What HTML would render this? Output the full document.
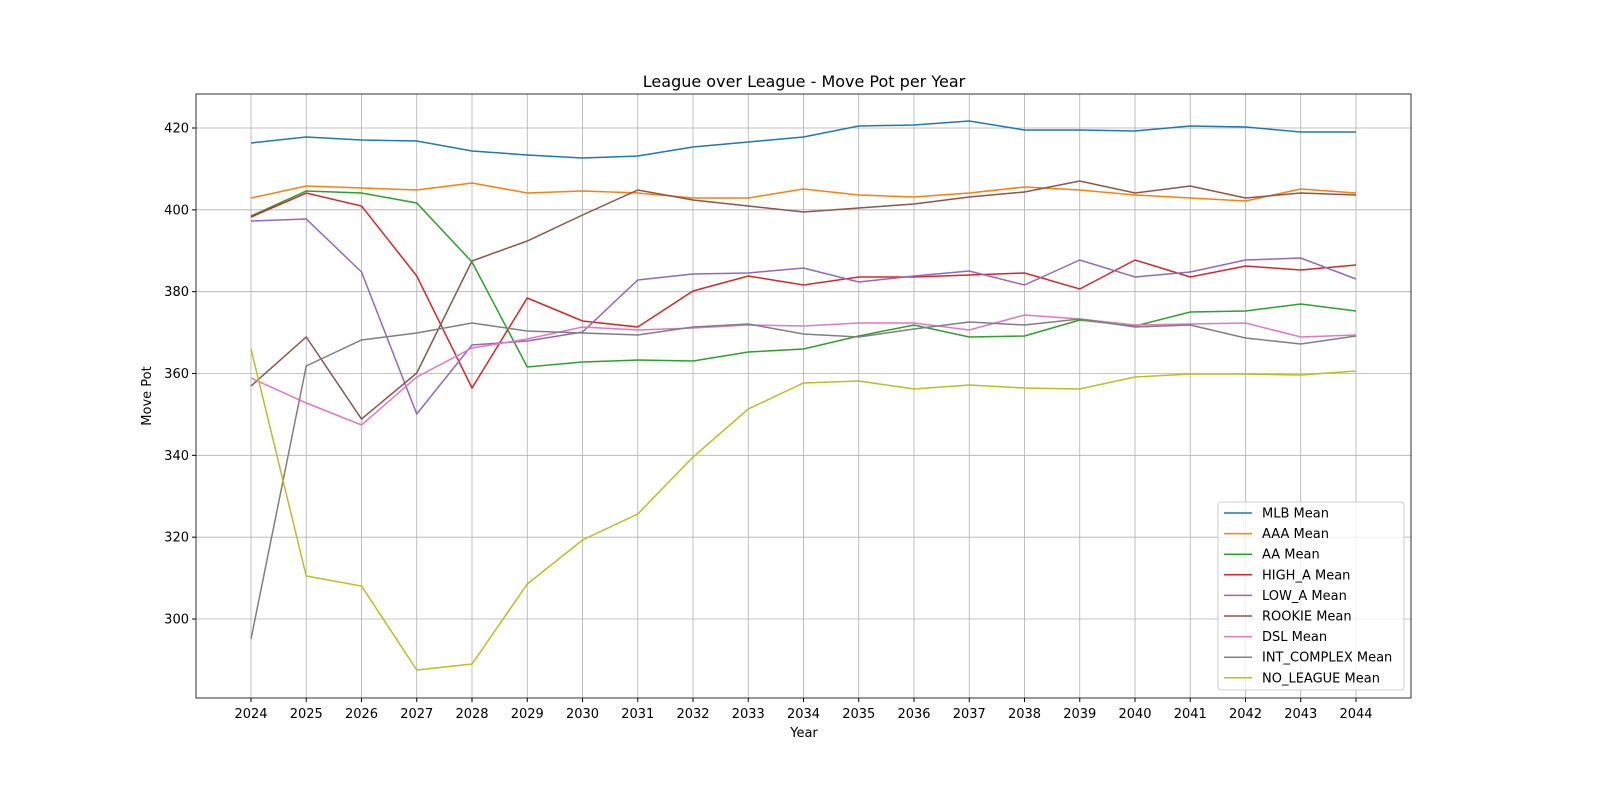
<!DOCTYPE html>
<html><head><style>body{margin:0;background:#fff}svg{display:block;font-family:"DejaVu Sans","Liberation Sans",sans-serif}</style></head><body>
<svg width="1600" height="800" xmlns="http://www.w3.org/2000/svg">
<rect width="1600" height="800" fill="#fff"/>
<text x="804" y="87" text-anchor="middle" font-size="16">League over League - Move Pot per Year</text>
<g id="grid" stroke="#b0b0b0" stroke-width="0.8"></g>
<g id="series" fill="none" stroke-width="1.5"></g>
<rect x="196" y="94" width="1215" height="604" fill="none" stroke="#000" stroke-width="0.8"/>
<g id="ticks" font-size="13"></g>
<text x="804" y="737" text-anchor="middle" font-size="13">Year</text>
<text x="151" y="396" text-anchor="middle" font-size="13" transform="rotate(-90 151 396)">Move Pot</text>
<rect x="1218" y="502" width="186" height="188" fill="#fff" fill-opacity="0.8" stroke="#ccc" rx="3"/>
<g id="legend" font-size="13"></g>
<script>
const ns="http://www.w3.org/2000/svg";
function el(p,t,a,txt){const e=document.createElementNS(ns,t);for(const k in a)e.setAttribute(k,a[k]);if(txt!==undefined)e.textContent=txt;document.getElementById(p).appendChild(e);}
const X=i=>251+i*55.25;
for(let i=0;i<21;i++){const x=X(i);el('grid','line',{x1:x,x2:x,y1:94,y2:698});el('ticks','line',{x1:x,x2:x,y1:698,y2:702,stroke:'#000'});el('ticks','text',{x:x,y:718,'text-anchor':'middle'},2024+i);}
for(let v=300;v<=420;v+=20){const y=128+(420-v)*4.0917;el('grid','line',{x1:196,x2:1411,y1:y,y2:y});el('ticks','line',{x1:192,x2:196,y1:y,y2:y,stroke:'#000'});el('ticks','text',{x:189,y:y+4.5,'text-anchor':'end'},v);}
const S=[
["MLB Mean","#1f77b4",[143,137,140,141,151,155,158,156,147,142,137,126,125,121,130,130,131,126,127,132,132]],
["AAA Mean","#ff7f0e",[198,186,188,190,183,193,191,193,198,198,189,195,197,193,187,190,195,198,201,189,193]],
["AA Mean","#2ca02c",[216,191,193,203,262,367,362,360,361,352,349,336,325,337,336,320,326,312,311,304,311]],
["HIGH_A Mean","#d62728",[217,193,206,276,388,298,321,327,291,276,285,277,277,275,273,289,260,277,266,270,265]],
["LOW_A Mean","#9467bd",[221,219,272,414,345,341,332,280,274,273,268,282,276,271,285,260,277,272,260,258,279]],
["ROOKIE Mean","#8c564b",[386,337,419,373,261,241,215,190,200,206,212,208,204,197,192,181,193,186,198,193,195]],
["DSL Mean","#e377c2",[378,403,425,377,348,339,327,330,328,325,326,323,323,330,315,319,325,324,323,337,335]],
["INT_COMPLEX Mean","#7f7f7f",[639,366,340,333,323,331,333,335,327,324,334,337,329,322,325,319,327,325,338,344,336]],
["NO_LEAGUE Mean","#bcbd22",[349,576,586,670,664,584,540,514,457,409,383,381,389,385,388,389,377,374,374,375,371]]];
S.forEach((s,k)=>{el('series','polyline',{points:s[2].map((y,i)=>X(i)+','+y).join(' '),stroke:s[1]});
const y=513+k*20.6;el('legend','line',{x1:1224,x2:1252,y1:y,y2:y,stroke:s[1],'stroke-width':1.5});el('legend','text',{x:1262,y:y+4.5},s[0]);});
</script>
</svg></body></html>
